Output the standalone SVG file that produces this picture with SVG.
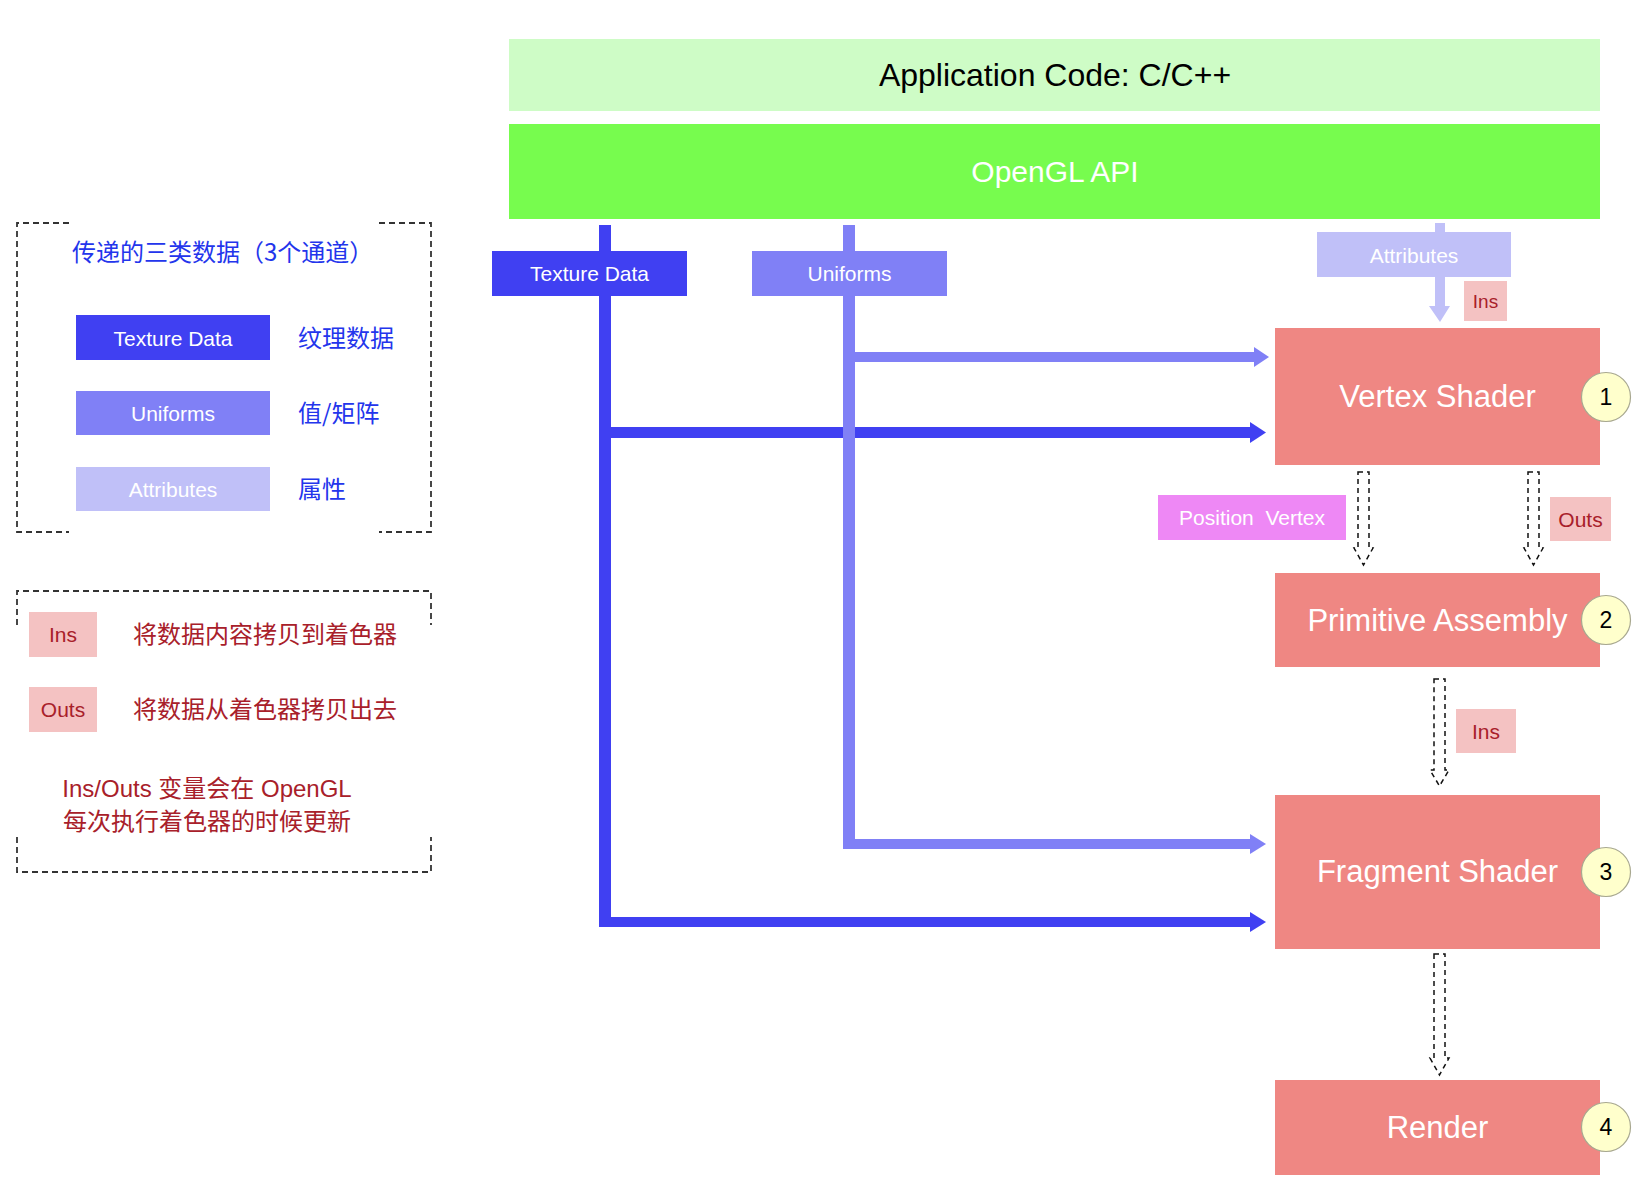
<svg xmlns="http://www.w3.org/2000/svg" width="1651" height="1203" viewBox="0 0 1651 1203">
<style>
text{font-family:"Liberation Sans","Noto Sans CJK SC",sans-serif}
.cjk{font-family:"Noto Sans CJK SC","Liberation Sans",sans-serif;font-size:24px}
.c{text-anchor:middle}
.w{fill:#ffffff}
.big{font-size:31px}
.lbl{font-size:21px}
.shader{fill:#EF8783}
.tex{fill:#4040F2}
.uni{fill:#8080F6}
.att{fill:#C0C0F8}
.pink{fill:#F4C2C2}
.red{fill:#A8202A}
.blue{fill:#2335EC}
.dash{fill:none;stroke:#333;stroke-width:1.8;stroke-dasharray:6 4}
.harrow{fill:#ffffff;stroke:#111;stroke-width:1.5;stroke-dasharray:5 4}
.num{fill:#FFFFCC;stroke:#A8A890;stroke-width:1.2}
.numt{font-size:23px;fill:#000;text-anchor:middle}
</style>
<rect width="1651" height="1203" fill="#ffffff"/>

<g id="legend-channels">
  <path class="dash" d="M69,223 H17 V532 H69 M379,223 H431 V532 H379"/>
  <text class="cjk blue" x="72" y="261">传递的三类数据（3个通道）</text>
  <rect class="tex" x="76" y="315" width="194" height="45"/>
  <text class="lbl w c" x="173" y="346">Texture Data</text>
  <text class="cjk blue" x="298" y="347">纹理数据</text>
  <rect class="uni" x="76" y="391" width="194" height="44"/>
  <text class="lbl w c" x="173" y="421">Uniforms</text>
  <text class="cjk blue" x="298" y="422">值/矩阵</text>
  <rect class="att" x="76" y="467" width="194" height="44"/>
  <text class="lbl w c" x="173" y="497">Attributes</text>
  <text class="cjk blue" x="298" y="498">属性</text>
</g>

<g id="legend-inout">
  <path class="dash" d="M17,625 V591 H431 V625 M17,837 V872 H431 V837"/>
  <rect class="pink" x="29" y="612" width="68" height="45"/>
  <text class="lbl red c" x="63" y="642">Ins</text>
  <text class="cjk red" x="133" y="643">将数据内容拷贝到着色器</text>
  <rect class="pink" x="29" y="687" width="68" height="45"/>
  <text class="lbl red c" x="63" y="717">Outs</text>
  <text class="cjk red" x="133" y="718">将数据从着色器拷贝出去</text>
  <text class="red c" style="font-size:24px" x="207" y="797">Ins/Outs 变量会在 OpenGL</text>
  <text class="cjk red c" x="207" y="830">每次执行着色器的时候更新</text>
</g>

<g id="connectors">
  <!-- texture channel -->
  <rect class="tex" x="599" y="225" width="12" height="702"/>
  <rect class="tex" x="605" y="427" width="646" height="11"/>
  <polygon class="tex" points="1250,422 1266,432.5 1250,443"/>
  <rect class="tex" x="605" y="917" width="646" height="10"/>
  <polygon class="tex" points="1250,912 1266,922 1250,932"/>
  <!-- uniforms channel -->
  <rect class="uni" x="843" y="225" width="12" height="624"/>
  <rect class="uni" x="849" y="352" width="406" height="10"/>
  <polygon class="uni" points="1254,347 1269,357 1254,367"/>
  <rect class="uni" x="849" y="839" width="402" height="10"/>
  <polygon class="uni" points="1250,834 1266,844 1250,854"/>
  <!-- attributes channel -->
  <rect class="att" x="1435" y="223" width="10" height="84"/>
  <polygon class="att" points="1429,306 1450,306 1440,322"/>
  <!-- dashed hollow arrows -->
  <path class="harrow" d="M1358,472 H1369 V548 H1373 L1363.5,565 L1354,548 H1358 Z"/>
  <path class="harrow" d="M1528,472 H1539 V548 H1543 L1533.5,565 L1524,548 H1528 Z"/>
  <path class="harrow" d="M1434,679 H1445 V770 H1449 L1439.5,786 L1430,770 H1434 Z"/>
  <path class="harrow" d="M1434,954 H1445 V1058 H1449 L1439.5,1075 L1430,1058 H1434 Z"/>
</g>

<g id="app-code">
  <rect x="509" y="39" width="1091" height="72" fill="#CEFCC6"/>
  <text class="c" style="font-size:32px;fill:#000" x="1055" y="86">Application Code: C/C++</text>
</g>

<g id="opengl-api">
  <rect x="509" y="124" width="1091" height="95" fill="#77FC4E"/>
  <text class="c w" style="font-size:30px" x="1055" y="182">OpenGL API</text>
</g>

<g id="texture-data-label">
  <rect class="tex" x="492" y="251" width="195" height="45"/>
  <text class="lbl w c" x="589.5" y="281">Texture Data</text>
</g>

<g id="uniforms-label">
  <rect class="uni" x="752" y="251" width="195" height="45"/>
  <text class="lbl w c" x="849.5" y="281">Uniforms</text>
</g>

<g id="attributes-label">
  <rect class="att" x="1317" y="232" width="194" height="45"/>
  <text class="lbl w c" x="1414" y="263">Attributes</text>
</g>

<g id="ins-attr">
  <rect class="pink" x="1464" y="281" width="43" height="40"/>
  <text class="red c" style="font-size:19px" x="1485.5" y="308">Ins</text>
</g>

<g id="vertex-shader">
  <rect class="shader" x="1275" y="328" width="325" height="137"/>
  <text class="big w c" x="1437.5" y="407">Vertex Shader</text>
  <circle class="num" cx="1606" cy="397" r="24.5"/>
  <text class="numt" x="1606" y="405">1</text>
</g>

<g id="position-vertex">
  <rect x="1158" y="495" width="188" height="45" fill="#EE88F5"/>
  <text class="lbl w c" x="1252" y="525" xml:space="preserve">Position  Vertex</text>
</g>

<g id="outs-label">
  <rect class="pink" x="1550" y="497" width="61" height="44"/>
  <text class="lbl red c" x="1580.5" y="527">Outs</text>
</g>

<g id="primitive-assembly">
  <rect class="shader" x="1275" y="573" width="325" height="94"/>
  <text class="big w c" x="1437.5" y="631">Primitive Assembly</text>
  <circle class="num" cx="1606" cy="620" r="24.5"/>
  <text class="numt" x="1606" y="628">2</text>
</g>

<g id="ins-mid">
  <rect class="pink" x="1456" y="709" width="60" height="44"/>
  <text class="lbl red c" x="1486" y="739">Ins</text>
</g>

<g id="fragment-shader">
  <rect class="shader" x="1275" y="795" width="325" height="154"/>
  <text class="big w c" x="1437.5" y="882">Fragment Shader</text>
  <circle class="num" cx="1606" cy="872" r="24.5"/>
  <text class="numt" x="1606" y="880">3</text>
</g>

<g id="render">
  <rect class="shader" x="1275" y="1080" width="325" height="95"/>
  <text class="big w c" x="1437.5" y="1138">Render</text>
  <circle class="num" cx="1606" cy="1127" r="24.5"/>
  <text class="numt" x="1606" y="1135">4</text>
</g>
</svg>
